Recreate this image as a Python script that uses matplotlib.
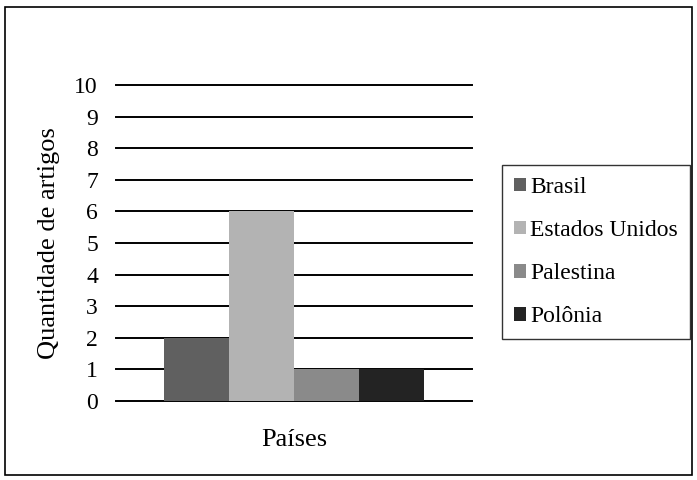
import numpy as np
import matplotlib.pyplot as plt
from matplotlib.patches import Rectangle

plt.rcParams['font.family'] = ['Liberation Serif', 'DejaVu Serif']

# Data
paises = ['Brasil', 'Estados Unidos', 'Palestina', 'Polônia']
artigos = [2, 6, 1, 1]
cores = ['#606060', '#b3b3b3', '#8a8a8a', '#232323']
yticks = list(range(0, 11))

fig = plt.figure(figsize=(6.97, 4.80), dpi=100)
ax = fig.add_axes([116 / 697, 1 - 401 / 480, 356 / 697, 316 / 480])

# Bars side by side in one category group
offsets = np.arange(len(paises)) - (len(paises) - 1) / 2
for off, nome, val, cor in zip(offsets, paises, artigos, cores):
    ax.bar(off, val, width=1.0, color=cor, label=nome, zorder=3)

ax.set_xlim(-178 / 65, 178 / 65)
ax.set_ylim(0, 10)
ax.set_yticks(yticks)
ax.set_xticks([])
ax.grid(axis='y', color='black', linewidth=1.4, zorder=0)
for gl in ax.get_ygridlines():
    gl.set_clip_on(False)
for s in ax.spines.values():
    s.set_visible(False)
ax.tick_params(axis='y', length=0, labelsize=17, pad=13)

ax.set_ylabel('Quantidade de artigos', fontsize=19, labelpad=10)
ax.set_xlabel('Países', fontsize=19, labelpad=20)

leg = ax.legend(loc='upper left', bbox_to_anchor=(502 / 697, 1 - 165 / 480),
                bbox_transform=fig.transFigure, fontsize=17,
                frameon=True, fancybox=False, edgecolor='black',
                handlelength=0.5, handleheight=0.5, handletextpad=0.2,
                labelspacing=0.94, borderpad=0.5, borderaxespad=0)
leg.get_frame().set_linewidth(1.0)

# Outer chart border
fig.patches.append(Rectangle((5 / 697, 5 / 480), 687 / 697, 468 / 480,
                             transform=fig.transFigure, fill=False,
                             edgecolor='black', linewidth=1.2))

plt.savefig('out.png', dpi=100)
